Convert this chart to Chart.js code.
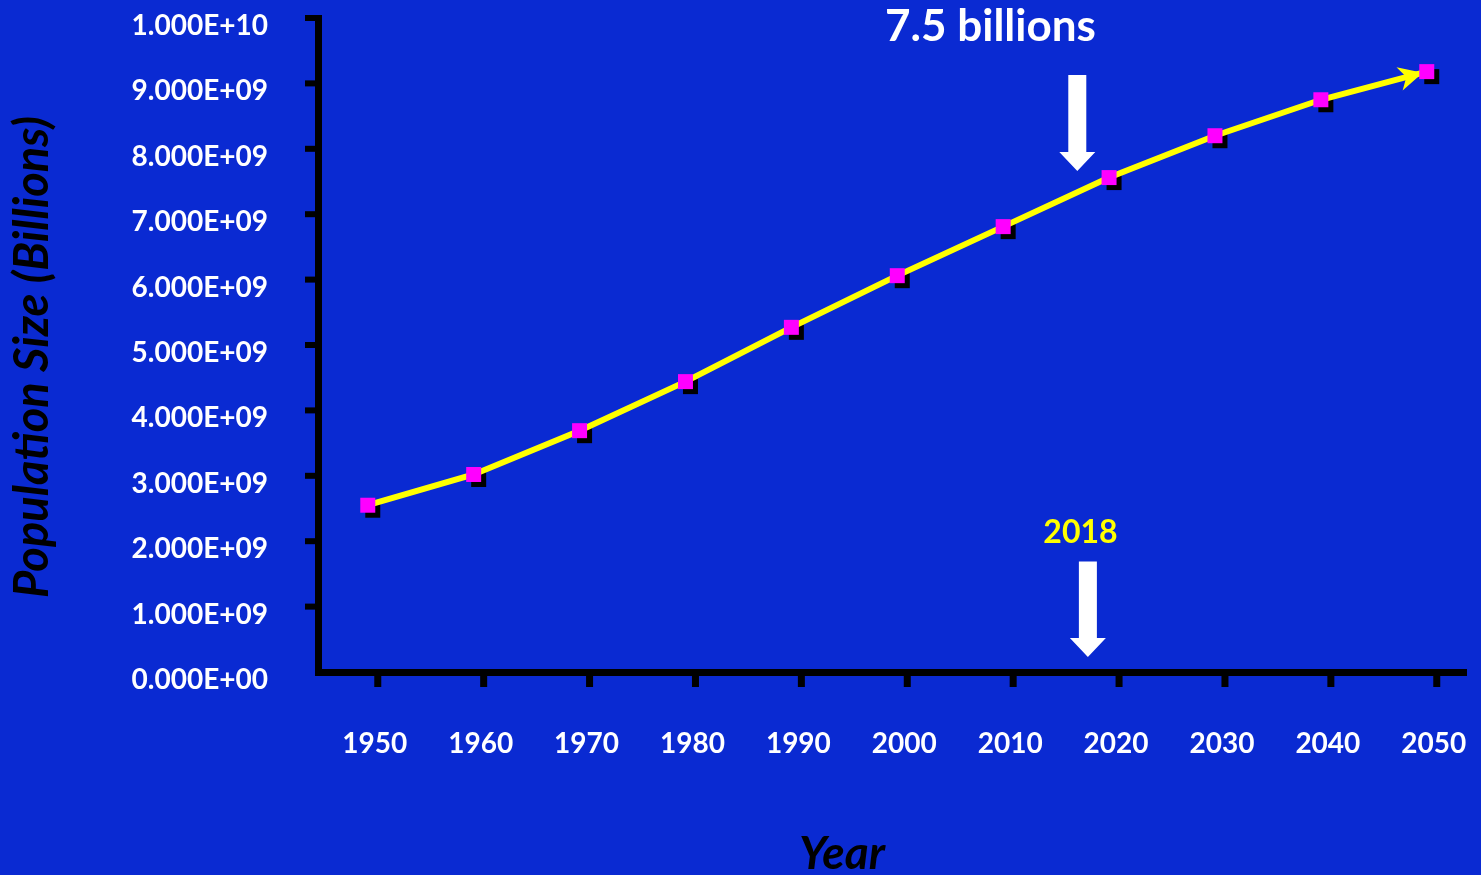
<!DOCTYPE html>
<html>
<head>
<meta charset="utf-8">
<title>Population Size</title>
<script src="https://cdn.jsdelivr.net/npm/chart.js@4/dist/chart.umd.min.js"></script>
<style>
  html, body { margin: 0; padding: 0; background: #0a2ad2; }
  canvas { display: block; }
</style>
</head>
<body>
<canvas id="popChart" width="1481" height="875"></canvas>
<script>
// Data
const years = [1950, 1960, 1970, 1980, 1990, 2000, 2010, 2020, 2030, 2040, 2050];
const population = [2.55e9, 3.02e9, 3.69e9, 4.44e9, 5.27e9, 6.06e9, 6.81e9, 7.56e9, 8.20e9, 8.75e9, 9.18e9];
const yTickValues = [0, 1e9, 2e9, 3e9, 4e9, 5e9, 6e9, 7e9, 8e9, 9e9, 1e10];
const yTickLabels = ['0.000E+00', '1.000E+09', '2.000E+09', '3.000E+09', '4.000E+09', '5.000E+09',
                     '6.000E+09', '7.000E+09', '8.000E+09', '9.000E+09', '1.000E+10'];
const highlightYear = 2018;
const highlightLabel = '7.5 billions';

const BG = '#0a2ad2';
const FONT = "Lato, 'Open Sans', sans-serif";

// panah putih ke bawah
function drawDownArrow(ctx, cx, yTop, yTip) {
    const shaft = 9, head = 18, headLen = 19;
    ctx.save();
    ctx.fillStyle = '#ffffff';
    ctx.beginPath();
    ctx.moveTo(cx - shaft, yTop);
    ctx.lineTo(cx + shaft, yTop);
    ctx.lineTo(cx + shaft, yTip - headLen);
    ctx.lineTo(cx + head, yTip - headLen);
    ctx.lineTo(cx, yTip);
    ctx.lineTo(cx - head, yTip - headLen);
    ctx.lineTo(cx - shaft, yTip - headLen);
    ctx.closePath();
    ctx.fill();
    ctx.restore();
}

// hapus padding otomatis dari scale
function noPad(s) {
    s.paddingTop = 0;
    s.paddingBottom = 0;
    s.paddingLeft = 0;
    s.paddingRight = 0;
}

const backgroundPlugin = {
    id: 'bg',
    beforeDraw(chart) {
        const ctx = chart.ctx;
        ctx.save();
        ctx.fillStyle = BG;
        ctx.fillRect(0, 0, chart.width, chart.height);
        ctx.restore();
    }
};

// sumbu, tick, bayangan marker
const axesPlugin = {
    id: 'axes',
    beforeDatasetsDraw(chart) {
        const ctx = chart.ctx;
        const { left, right, top, bottom } = chart.chartArea;
        const xs = chart.scales.x, ys = chart.scales.y;
        ctx.save();
        ctx.fillStyle = '#000000';
        ctx.fillRect(left - 3, top - 3, 7, bottom - top + 6);
        ctx.fillRect(left - 3, bottom - 3, right - left + 3, 7);
        yTickValues.forEach(v => {
            if (v === 0) return;
            const y = ys.getPixelForValue(v);
            ctx.fillRect(left - 13, y - 3, 13, 6);
        });
        years.forEach(v => {
            const x = xs.getPixelForValue(v) + 10;
            ctx.fillRect(x - 3.5, bottom, 7, 15);
        });
        // bayangan hitam marker
        const meta = chart.getDatasetMeta(1);
        meta.data.forEach(pt => {
            ctx.fillRect(pt.x - 7.5 + 5, pt.y - 7.5 + 5, 15, 15);
        });
        ctx.restore();
    },
    afterDatasetDraw(chart, args) {
        if (args.index !== 0) return;
        // kepala panah kuning di ujung garis
        const pts = chart.getDatasetMeta(0).data;
        const p1 = pts[pts.length - 2], p2 = pts[pts.length - 1];
        const ang = Math.atan2(p2.y - p1.y, p2.x - p1.x);
        const ctx = chart.ctx;
        ctx.save();
        ctx.translate(p2.x - 4, p2.y + 1);
        ctx.rotate(ang);
        ctx.fillStyle = '#ffff00';
        ctx.beginPath();
        ctx.moveTo(0, 0);
        ctx.lineTo(-24, -12);
        ctx.lineTo(-17, 0);
        ctx.lineTo(-24, 12);
        ctx.closePath();
        ctx.fill();
        ctx.restore();
    },
    afterDraw(chart) {
        const ctx = chart.ctx;
        const xs = chart.scales.x, ys = chart.scales.y;
        ctx.save();
        // judul sumbu
        ctx.fillStyle = '#000000';
        ctx.font = "italic bold 47px " + FONT;
        ctx.textAlign = 'center';
        ctx.textBaseline = 'alphabetic';
        ctx.save();
        ctx.translate(48, 357);
        ctx.rotate(-Math.PI / 2);
        ctx.fillText('Population Size (Billions)', 0, 0);
        ctx.restore();
        ctx.font = "italic bold 46px " + FONT;
        ctx.fillText('Year', 842, 869);

        // anotasi 7.5 billions
        ctx.fillStyle = '#ffffff';
        ctx.font = "bold 44px " + FONT;
        ctx.fillText(highlightLabel, xs.getPixelForValue(2008.8), 41);
        drawDownArrow(ctx, xs.getPixelForValue(highlightYear - 1), ys.getPixelForValue(9.13e9), ys.getPixelForValue(7.66e9));

        // anotasi 2018
        ctx.fillStyle = '#ffff00';
        ctx.font = "bold 32px " + FONT;
        ctx.fillText(String(highlightYear), xs.getPixelForValue(highlightYear - 0.7), 543);
        drawDownArrow(ctx, xs.getPixelForValue(highlightYear), ys.getPixelForValue(1.69e9), ys.getPixelForValue(0.23e9));
        ctx.restore();
    }
};

const points = years.map((yr, i) => ({ x: yr, y: population[i] }));

new Chart(document.getElementById('popChart'), {
    type: 'line',
    data: {
        datasets: [
            {
                label: 'Population',
                data: points,
                borderColor: '#ffff00',
                borderWidth: 6,
                pointRadius: 0,
                tension: 0,
                order: 2
            },
            {
                label: 'Markers',
                data: points,
                showLine: false,
                pointStyle: 'rect',
                pointRadius: 10.6,
                pointBorderWidth: 0,
                pointBackgroundColor: '#ff00ff',
                order: 1
            }
        ]
    },
    options: {
        responsive: false,
        devicePixelRatio: 1,
        animation: false,
        events: [],
        layout: {
            autoPadding: false,
            padding: { left: 0, top: 18, right: 14, bottom: 0 }
        },
        plugins: {
            legend: { display: false },
            tooltip: { enabled: false },
            title: { display: false }
        },
        scales: {
            x: {
                type: 'linear',
                min: 1945.3,
                max: 2053.8,
                afterBuildTicks: s => { s.ticks = years.map(v => ({ value: v })); },
                afterFit: s => { s.height = 875 - 672; noPad(s); },
                grid: { display: false, drawTicks: false },
                border: { display: false },
                ticks: {
                    color: '#ffffff',
                    padding: 55,
                    labelOffset: 7,
                    maxRotation: 0,
                    font: { family: FONT, weight: 'bold', size: 28 },
                    callback: v => String(v)
                }
            },
            y: {
                min: 0,
                max: 1e10,
                afterBuildTicks: s => { s.ticks = yTickValues.map(v => ({ value: v })); },
                afterFit: s => { s.width = 318; noPad(s); },
                grid: { display: false, drawTicks: false },
                border: { display: false },
                ticks: {
                    color: '#ffffff',
                    padding: 50,
                    labelOffset: 8,
                    font: { family: FONT, weight: 'bold', size: 28 },
                    callback: (v, i) => yTickLabels[i]
                }
            }
        }
    },
    plugins: [backgroundPlugin, axesPlugin]
});
</script>
</body>
</html>
